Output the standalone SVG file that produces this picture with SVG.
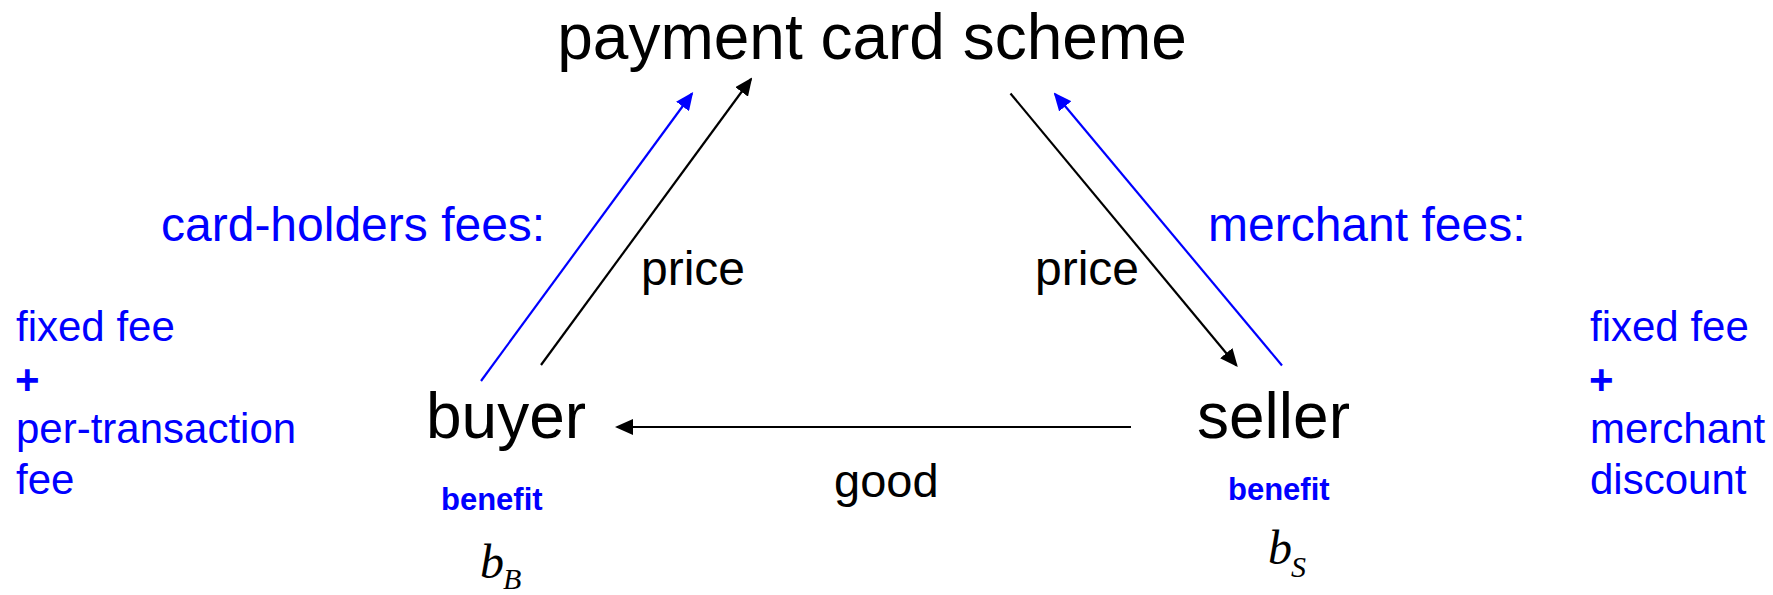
<svg xmlns="http://www.w3.org/2000/svg" width="1773" height="595" viewBox="0 0 1773 595">
  <style>
    text { font-family: "Liberation Sans", Arial, sans-serif; }
    .big { font-size: 64px; fill: #000; }
    .lbl { font-size: 48px; }
    .blue { fill: #0000ff; }
    .black { fill: #000; }
    .list { font-size: 42px; fill: #0000ff; }
    .plus { font-weight: bold; }
    .ben { font-size: 31px; font-weight: bold; fill: #0000ff; }
    .math { font-family: "Liberation Serif", "Times New Roman", serif; font-style: italic; fill: #000; }
    .c-blue { stroke: #0000ff; stroke-width: 2.2; fill: none; }
    .c-black { stroke: #000; stroke-width: 2.2; fill: none; }
  </style>
  <defs>
    <marker id="ah-black" markerUnits="userSpaceOnUse" markerWidth="18" markerHeight="16" refX="16" refY="8" orient="auto">
      <path d="M0,0 L18,8 L0,16 z" fill="#000"/>
    </marker>
    <marker id="ah-blue" markerUnits="userSpaceOnUse" markerWidth="18" markerHeight="16" refX="16" refY="8" orient="auto">
      <path d="M0,0 L18,8 L0,16 z" fill="#0000ff"/>
    </marker>
  </defs>

  <g id="connectors">
    <line class="c-blue" x1="481" y1="381" x2="692" y2="93.5" marker-end="url(#ah-blue)"/>
    <line class="c-black" x1="541" y1="365" x2="751" y2="79" marker-end="url(#ah-black)"/>
    <line class="c-black" x1="1010.5" y1="93.5" x2="1236.5" y2="365.5" marker-end="url(#ah-black)"/>
    <line class="c-blue" x1="1282" y1="365.5" x2="1055" y2="94" marker-end="url(#ah-blue)"/>
    <line class="c-black" x1="1131" y1="427" x2="617" y2="427" marker-end="url(#ah-black)"/>
    <text class="lbl black" x="641" y="285">price</text>
    <text class="lbl black" x="1035" y="285">price</text>
    <text class="black" x="834" y="497" style="font-size:47px">good</text>
  </g>

  <g id="scheme">
    <text class="big" x="872" y="59" text-anchor="middle">payment card scheme</text>
  </g>

  <g id="card-holders-fees">
    <text class="lbl blue" x="161" y="241">card-holders fees:</text>
    <text class="list" x="16" y="341">fixed fee</text>
    <text class="list plus" x="15" y="394">+</text>
    <text class="list" x="16" y="443">per-transaction</text>
    <text class="list" x="16" y="494">fee</text>
  </g>

  <g id="merchant-fees">
    <text class="lbl blue" x="1208" y="241">merchant fees:</text>
    <text class="list" x="1590" y="341">fixed fee</text>
    <text class="list plus" x="1589" y="394">+</text>
    <text class="list" x="1590" y="443">merchant</text>
    <text class="list" x="1590" y="494">discount</text>
  </g>

  <g id="buyer">
    <text class="big" x="426" y="438">buyer</text>
    <text class="ben" x="441" y="510">benefit</text>
    <text class="math" x="480" y="578" style="font-size:48px">b<tspan x="503" y="589" style="font-size:30px">B</tspan></text>
  </g>

  <g id="seller">
    <text class="big" x="1197" y="438">seller</text>
    <text class="ben" x="1228" y="500">benefit</text>
    <text class="math" x="1268" y="564" style="font-size:48px">b<tspan x="1291" y="577" style="font-size:30px">S</tspan></text>
  </g>
</svg>
